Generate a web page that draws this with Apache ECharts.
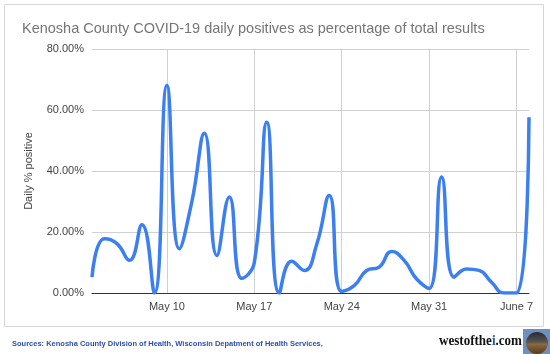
<!DOCTYPE html>
<html>
<head>
<meta charset="utf-8">
<script src="https://cdn.jsdelivr.net/npm/echarts@6/dist/echarts.min.js"></script>
<style>
  html, body { margin: 0; padding: 0; background: #fff; }
  #chart { width: 550px; height: 354px; }
</style>
</head>
<body>
<div id="chart"></div>
<script>
"use strict";

/*****Data*****/
var dates = ['May 4','May 5','May 6','May 7','May 8','May 9','May 10','May 11','May 12',
  'May 13','May 14','May 15','May 16','May 17','May 18','May 19','May 20','May 21',
  'May 22','May 23','May 24','May 25','May 26','May 27','May 28','May 29','May 30',
  'May 31','June 1','June 2','June 3','June 4','June 5','June 6','June 7','June 8'];
var tickLabels = ['May 10','May 17','May 24','May 31','June 7'];
var dailyPositive = [5.2, 17.8, 16.2, 10.7, 22.4, 0, 68, 14.5, 30,
  52.4, 12.3, 31.5, 4.8, 10, 56, 0, 10.4, 7.4,
  16, 32, 0.5, 2.4, 7.4, 8.5, 13.6, 10.7, 4.6,
  1.5, 38, 5.2, 7.9, 7.4, 3.5, 0, 0, 57.6];
var yTicks = [0, 20, 40, 60, 80];

var isTick = function (idx) { return tickLabels.indexOf(dates[idx]) >= 0; };

/*****Chart*****/
var chart = echarts.init(document.getElementById('chart'));
var option = {
  animation: false,
  backgroundColor: '#fff',
  textStyle: { fontFamily: "'Liberation Sans', Arial, sans-serif" },
  title: {
    text: 'Kenosha County COVID-19 daily positives as percentage of total results',
    left: 17,
    top: 16,
    textStyle: { color: '#757575', fontSize: 14.5, fontWeight: 'normal' }
  },
  grid: { left: 92, right: 21, top: 49, bottom: 61 },
  xAxis: {
    type: 'category',
    data: dates,
    boundaryGap: false,
    axisTick: { show: false },
    axisLine: { lineStyle: { color: '#333', width: 1 } },
    axisLabel: {
      interval: function (idx) { return isTick(idx); },
      color: '#444',
      fontSize: 11,
      margin: 8
    },
    splitLine: {
      show: true,
      interval: function (idx) { return isTick(idx); },
      lineStyle: { color: '#d0d0d0', width: 1 }
    }
  },
  yAxis: {
    type: 'value',
    min: yTicks[0],
    max: yTicks[yTicks.length - 1],
    interval: 20,
    name: 'Daily % positive',
    nameLocation: 'middle',
    nameGap: 58,
    nameTextStyle: { color: '#444', fontSize: 11 },
    axisLine: { show: false },
    axisTick: { show: false },
    axisLabel: {
      color: '#444',
      fontSize: 11,
      margin: 8,
      formatter: function (v) { return v.toFixed(2) + '%'; }
    },
    splitLine: { lineStyle: { color: '#d0d0d0', width: 1 } }
  },
  series: [{
    type: 'line',
    data: dailyPositive,
    smooth: 0.5,
    symbol: 'none',
    lineStyle: { color: '#3b7ff2', width: 3.5 }
  }],
  graphic: [
    {
      type: 'rect',
      shape: { x: 4.5, y: 4.5, width: 539, height: 322 },
      style: { fill: null, stroke: '#d6d6d6', lineWidth: 1 },
      silent: true
    },
    {
      type: 'text',
      left: 12,
      top: 340,
      style: {
        text: 'Sources: Kenosha County Division of Health, Wisconsin Depatment of Health Services,',
        fill: '#2a4fb0',
        font: "bold 7.5px 'Liberation Sans', Arial, sans-serif"
      }
    },
    {
      type: 'text',
      x: 439,
      y: 334,
      scaleX: 0.87,
      style: {
        rich: {
          k: { fill: '#111', font: "bold 15px 'Liberation Serif', 'DejaVu Serif', serif" },
          b: { fill: '#2a5aa8', font: "bold 15px 'Liberation Serif', 'DejaVu Serif', serif" }
        },
        text: '{k|westofthe}{b|i}{k|.com}'
      }
    },
    {
      type: 'rect',
      shape: { x: 523, y: 329, width: 27, height: 25 },
      style: { fill: '#6f8fbf' },
      silent: true
    },
    {
      type: 'circle',
      shape: { cx: 537, cy: 343, r: 11 },
      style: {
        fill: new echarts.graphic.LinearGradient(0, 0, 0, 1, [
          { offset: 0, color: '#2a2a2a' },
          { offset: 0.45, color: '#555' },
          { offset: 0.55, color: '#8a6a40' },
          { offset: 1, color: '#5a3a1a' }
        ])
      },
      silent: true
    }
  ]
};
chart.setOption(option);
</script>
</body>
</html>
